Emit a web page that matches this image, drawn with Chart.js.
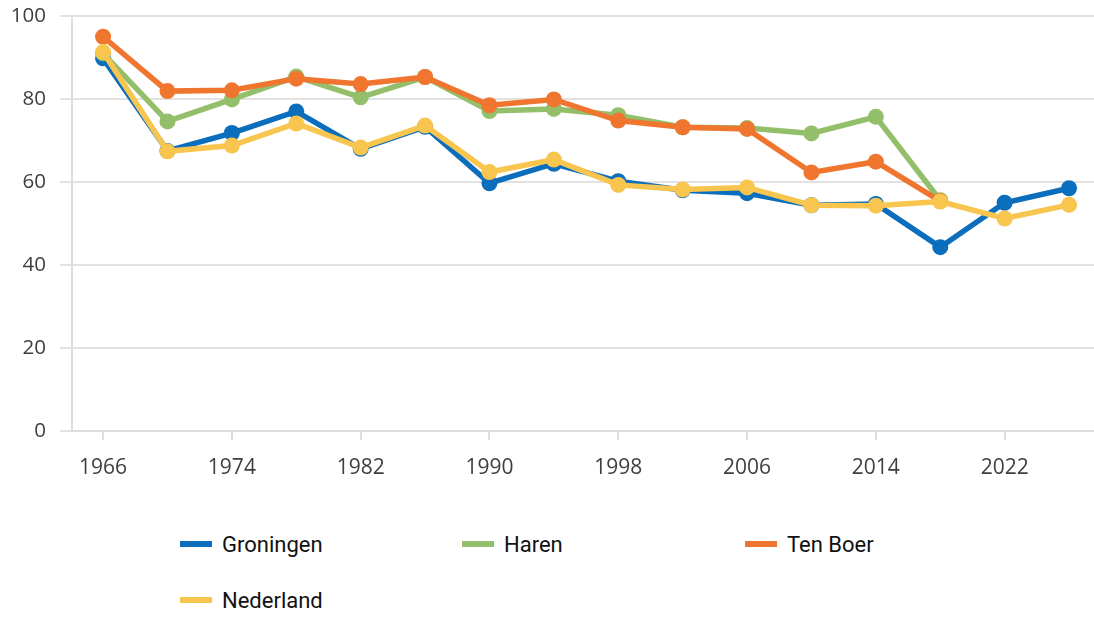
<!DOCTYPE html>
<html>
<head>
<meta charset="utf-8">
<script src="https://cdn.jsdelivr.net/npm/chart.js@4"></script>
<style>
  html, body { margin: 0; padding: 0; background: #fff; overflow: hidden; }
  #wrap { position: relative; width: 1094px; height: 617px; }
  #box { position: absolute; left: 0; top: 0; width: 1094px; height: 500px; }
  #legend { position: absolute; left: 180px; top: 526px; width: 900px; font-family: Roboto, sans-serif; font-size: 22px; color: #111; }
  .item { position: absolute; display: flex; align-items: center; height: 36px; }
  .sw { width: 32px; height: 6px; margin-right: 10px; }
</style>
</head>
<body>
<div id="wrap">
  <div id="box"><canvas id="c"></canvas></div>
  <div id="legend"></div>
</div>
<script>
const years = [1966,1970,1974,1978,1982,1986,1990,1994,1998,2002,2006,2010,2014,2018,2022,2026];
const tickYears = [1966,1974,1982,1990,1998,2006,2014,2022];
const yTicks = [0,20,40,60,80,100];
const seriesNames = ['Groningen','Haren','Ten Boer','Nederland'];
const seriesColors = ['#0a6ebd','#93bf6a','#f0752f','#f8c54f'];
const groningen = [89.8,67.5,71.8,77.0,68.0,73.3,59.7,64.4,60.2,58.0,57.3,54.4,54.7,44.3,55.0,58.5];
const haren     = [91.0,74.6,79.9,85.4,80.4,85.3,77.1,77.6,76.1,73.2,73.0,71.7,75.7,55.6,null,null];
const tenBoer   = [95.0,81.9,82.1,84.9,83.6,85.3,78.5,79.9,74.8,73.2,72.8,62.3,64.9,55.4,null,null];
const nederland = [91.3,67.4,68.8,74.1,68.3,73.6,62.4,65.4,59.3,58.2,58.7,54.4,54.3,55.3,51.2,54.5];
const seriesValues = [groningen, haren, tenBoer, nederland];
const drawOrder = [3,2,1,0];

const datasets = seriesNames.map((name, i) => ({
  label: name,
  data: years.map((yr, j) => ({x: yr, y: seriesValues[i][j]})).filter(p => p.y !== null),
  borderColor: seriesColors[i],
  backgroundColor: seriesColors[i],
  pointBackgroundColor: seriesColors[i],
  pointBorderColor: seriesColors[i],
  borderWidth: 5.5,
  pointRadius: 8,
  pointBorderWidth: 0,
  tension: 0,
  clip: false,
  order: drawOrder[i]
}));

new Chart(document.getElementById('c'), {
  type: 'line',
  data: { datasets },
  options: {
    responsive: true,
    maintainAspectRatio: false,
    animation: false,
    layout: { autoPadding: false, padding: { top: 16, right: 0, left: 0, bottom: 0 } },
    plugins: { legend: { display: false }, tooltip: { enabled: false } },
    scales: {
      x: {
        type: 'linear',
        min: 1964.07,
        max: 2027.55,
        afterBuildTicks: s => { s.ticks = tickYears.map(v => ({ value: v })); },
        afterFit: s => { s.height = 69; s.paddingLeft = 0; s.paddingRight = 0; },
        ticks: { color: '#3f3f3f', font: { family: '"Open Sans", sans-serif', size: 21 }, padding: 15, maxRotation: 0, autoSkip: false, callback: v => String(v) },
        grid: { drawOnChartArea: false, drawTicks: true, tickLength: 9, color: '#dedede', lineWidth: 2 },
        border: { display: true, color: '#dedede', width: 2 }
      },
      y: {
        min: 0,
        max: 100,
        afterBuildTicks: s => { s.ticks = yTicks.map(v => ({ value: v })); },
        afterFit: s => { s.width = 72; s.paddingTop = 0; s.paddingBottom = 0; },
        ticks: { color: '#3f3f3f', font: { family: '"Open Sans", sans-serif', size: 20.5 }, padding: 14 },
        grid: { color: '#e2e2e2', lineWidth: 2, tickLength: 12 },
        border: { display: true, color: '#dedede', width: 2 }
      }
    }
  }
});

const leg = document.getElementById('legend');
const pos = [[0,0],[282,0],[565,0],[0,56]];
seriesNames.forEach((name, i) => {
  const d = document.createElement('div');
  d.className = 'item';
  d.style.left = pos[i][0] + 'px';
  d.style.top = pos[i][1] + 'px';
  d.innerHTML = '<span class="sw" style="background:' + seriesColors[i] + '"></span><span>' + name + '</span>';
  leg.appendChild(d);
});
</script>
</body>
</html>
